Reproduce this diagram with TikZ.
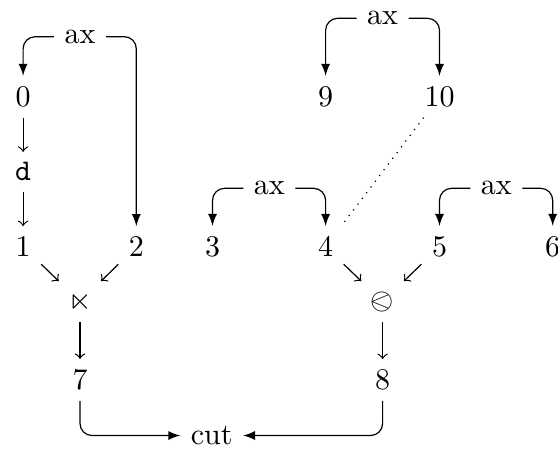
\documentclass[tikz,border=0pt]{standalone}
\usepackage{amssymb}
\usepackage{stmaryrd}
\usetikzlibrary{arrows}
\begin{document}
\begin{tikzpicture}[x=0.33333pt,y=-0.33333pt,
  axedge/.style={-latex,rounded corners=4pt},
  cutedge/.style={-latex,rounded corners=4pt},
  plain/.style={->}]
\useasboundingbox (0,0) rectangle (558,450);
% nodes
\node (axa) at (80,36.7) {ax};
\node (n0) at (23.1,96.7) {0};
\node (d) at (23.1,171.7) {\texttt{d}};
\node (n1) at (23.1,246.7) {1};
\node (n2) at (136.3,246.7) {2};
\node (lt) at (80,301.7) {$\ltimes$};
\node (n7) at (80,380) {7};
\node (cut) at (211.7,435.5) {cut};
\node (axt) at (382.6,18.3) {ax};
\node (n9) at (325.6,96.7) {9};
\node (n10) at (439.5,96.7) {10};
\node (axb) at (269.4,188.3) {ax};
\node (axc) at (496.4,188.3) {ax};
\node (n3) at (212.5,246.7) {3};
\node (n4) at (325.6,246.7) {4};
\node (n5) at (439.5,246.7) {5};
\node (n6) at (552.7,246.7) {6};
\node (ol) at (382.6,301.7) {$\olessthan$};
\node (n8) at (382.6,380) {8};
% edges
\draw[axedge] (axa.west) -| (n0.north);
\draw[axedge] (axa.east) -| (n2.north);
\draw[plain] (n0) -- (d);
\draw[plain] (d) -- (n1);
\draw[plain] (n1) -- (lt);
\draw[plain] (n2) -- (lt);
\draw[plain] (lt) -- (n7);
\draw[cutedge] (n7.south) |- (cut.west);
\draw[axedge] (axt.west) -| (n9.north);
\draw[axedge] (axt.east) -| (n10.north);
\draw[axedge] (axb.west) -| (n3.north);
\draw[axedge] (axb.east) -| (n4.north);
\draw[axedge] (axc.west) -| (n5.north);
\draw[axedge] (axc.east) -| (n6.north);
\draw[dotted] (n10) -- (n4);
\draw[plain] (n4) -- (ol);
\draw[plain] (n5) -- (ol);
\draw[plain] (ol) -- (n8);
\draw[cutedge] (n8.south) |- (cut.east);
\end{tikzpicture}
\end{document}
